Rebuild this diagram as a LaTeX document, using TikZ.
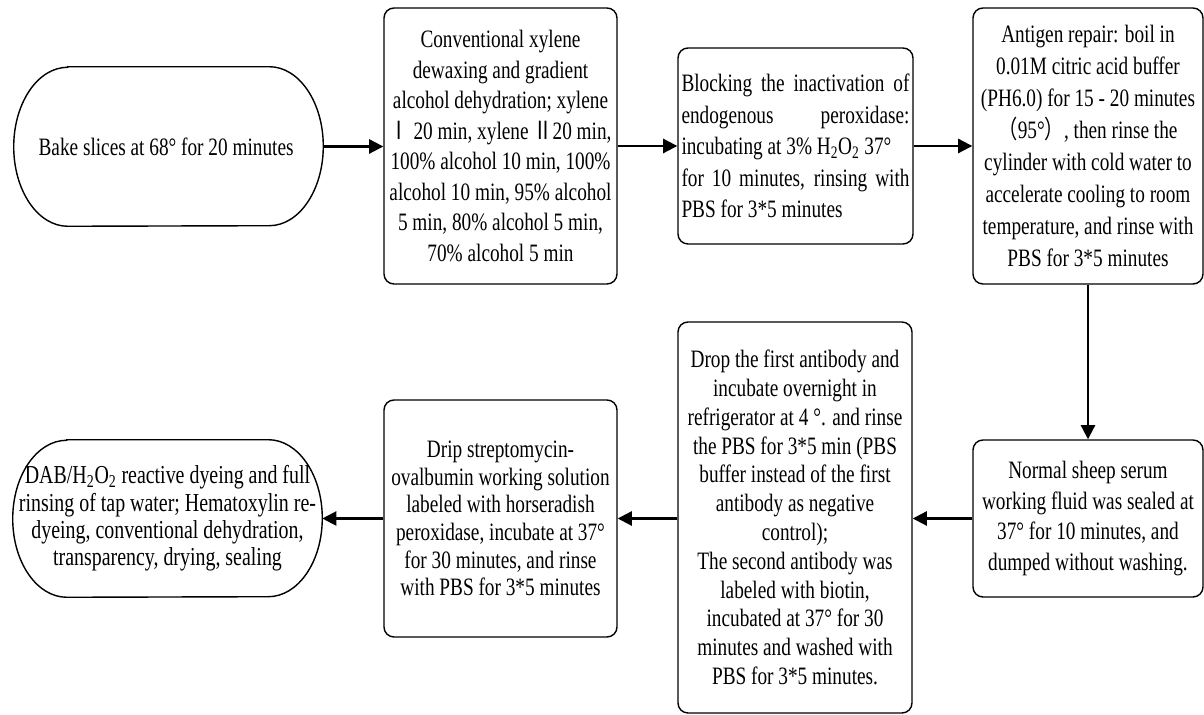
\documentclass[tikz,border=0pt]{standalone}
\usepackage{fontspec}
\setmainfont{Liberation Serif}[FakeStretch=0.77]
\newfontfamily\cjk{Noto Sans CJK SC}[FakeStretch=0.77]
\usepackage{tikz}
\usetikzlibrary{arrows.meta, positioning, calc}

\begin{document}
\begin{tikzpicture}[
    stepbox/.style={draw, rounded corners=0.25cm, line width=1pt, align=center, inner sep=0pt},
    endbox/.style={align=center, inner sep=0pt},
    flowarrow/.style={line width=1.5pt, -{Triangle[length=10pt, width=10pt]}}
  ]
  \useasboundingbox (0, 0) rectangle (30.1, 17.875);

  % Top row
  \node[endbox, minimum width=7.725cm, minimum height=3.975cm, font={\fontsize{17.8}{20}\selectfont}] (bake) at (4.2125, 14.2125) {
    Bake slices at 68° for 20 minutes
  };

  \node[stepbox, minimum width=5.825cm, minimum height=6.9cm, font={\fontsize{17.8}{21.7}\selectfont}] (xylene) at (12.5125, 14.225) {
    Conventional xylene\\
    dewaxing and gradient\\
    alcohol dehydration; xylene\\
    {\cjk Ⅰ} 20 min, xylene {\cjk Ⅱ}20 min,\\
    100\% alcohol 10 min, 100\%\\
    alcohol 10 min, 95\% alcohol\\
    5 min, 80\% alcohol 5 min,\\
    70\% alcohol 5 min
  };

  \node[stepbox, minimum width=5.875cm, minimum height=4.9cm, font={\fontsize{17.8}{22.5}\selectfont}] (blocking) at (19.8875, 14.225) {
    \makebox[5.7cm][s]{Blocking the inactivation of}\\
    \makebox[5.7cm][s]{endogenous peroxidase:}\\
    \makebox[5.7cm][l]{incubating at 3\% H\textsubscript{2}O\textsubscript{2} 37°}\\
    \makebox[5.7cm][s]{for 10 minutes, rinsing with}\\
    \makebox[5.7cm][l]{PBS for 3*5 minutes}
  };

  \node[stepbox, minimum width=5.75cm, minimum height=6.9cm, font={\fontsize{17.8}{22.7}\selectfont}] (antigen) at (27.2, 14.225) {
    Antigen repair: boil in\\
    0.01M citric acid buffer\\
    (PH6.0) for 15 - 20 minutes\\
    {\cjk （}95°{\cjk ）}, then rinse the\\
    cylinder with cold water to\\
    accelerate cooling to room\\
    temperature, and rinse with\\
    PBS for 3*5 minutes
  };

  % Bottom row
  \node[stepbox, minimum width=5.75cm, minimum height=3.925cm, font={\fontsize{17.8}{22}\selectfont}] (serum) at (27.2, 4.9125) {
    Normal sheep serum\\
    working fluid was sealed at\\
    37° for 10 minutes, and\\
    dumped without washing.
  };

  \node[stepbox, minimum width=5.85cm, minimum height=9.775cm, font={\fontsize{17.8}{20.5}\selectfont}] (antibody) at (19.875, 4.9375) {
    Drop the first antibody and\\
    incubate overnight in\\
    refrigerator at 4 °. and rinse\\
    the PBS for 3*5 min (PBS\\
    buffer instead of the first\\
    antibody as negative\\
    control);\\
    The second antibody was\\
    labeled with biotin,\\
    incubated at 37° for 30\\
    minutes and washed with\\
    PBS for 3*5 minutes.
  };

  \node[stepbox, minimum width=5.825cm, minimum height=5.925cm, font={\fontsize{17.8}{19.7}\selectfont}] (drip) at (12.5125, 4.9125) {
    Drip streptomycin-\\
    ovalbumin working solution\\
    labeled with horseradish\\
    peroxidase, incubate at 37°\\
    for 30 minutes, and rinse\\
    with PBS for 3*5 minutes
  };

  \node[endbox, minimum width=7.725cm, minimum height=3.925cm, font={\fontsize{18.4}{19.4}\selectfont}] (dab) at (4.1875, 4.9125) {
    DAB/H\textsubscript{2}O\textsubscript{2} reactive dyeing and full\\
    rinsing of tap water; Hematoxylin re-\\
    dyeing, conventional dehydration,\\
    transparency, drying, sealing
  };

  % Rounded ends
  \draw[line width=1pt] ([xshift=1.35cm]bake.north west) -- ([xshift=-1.35cm]bake.north east)
    arc[start angle=90, end angle=-90, x radius=1.35cm, y radius=1.9875cm]
    -- ([xshift=1.35cm]bake.south west)
    arc[start angle=270, end angle=90, x radius=1.35cm, y radius=1.9875cm] -- cycle;
  \draw[line width=1pt] ([xshift=1.35cm]dab.north west) -- ([xshift=-1.35cm]dab.north east)
    arc[start angle=90, end angle=-90, x radius=1.35cm, y radius=1.9625cm]
    -- ([xshift=1.35cm]dab.south west)
    arc[start angle=270, end angle=90, x radius=1.35cm, y radius=1.9625cm] -- cycle;

  % Arrows
  \draw[flowarrow] (bake.east) -- (bake.east -| xylene.west);
  \draw[flowarrow] (xylene.east) -- (xylene.east -| blocking.west);
  \draw[flowarrow] (blocking.east) -- (blocking.east -| antigen.west);
  \draw[flowarrow] (antigen.south) -- (serum.north);
  \draw[flowarrow] (serum.west) -- (serum.west -| antibody.east);
  \draw[flowarrow] (serum.west -| antibody.west) -- (serum.west -| drip.east);
  \draw[flowarrow] (drip.west) -- (drip.west -| dab.east);
\end{tikzpicture}
\end{document}
